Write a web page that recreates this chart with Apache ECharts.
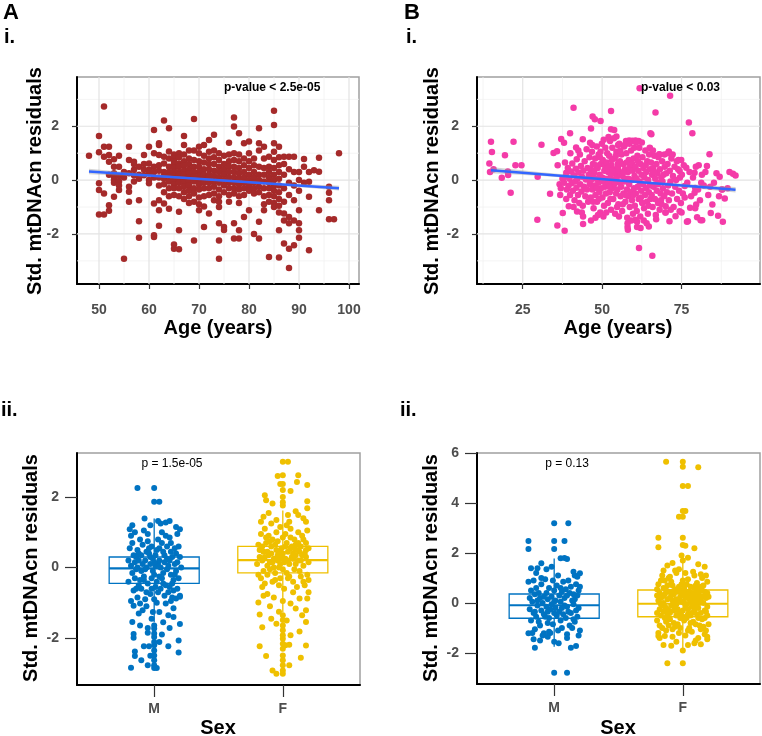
<!DOCTYPE html>
<html><head><meta charset="utf-8">
<script src="https://cdn.jsdelivr.net/npm/echarts@6/dist/echarts.min.js"></script>
<style>html,body{margin:0;padding:0;background:#fff}#c{width:762px;height:736px}</style>
</head><body><div id="c"></div>
<script>
// ---------- ticks / labels ----------
const ageTicksA=[50,60,70,80,90,100];
const ageMinorA=[55,65,75,85,95];
const ageTicksB=[25,50,75];
const ageMinorB=[12.5,37.5,62.5,87.5];
const residTicks=[-2,0,2];
const residMinor=[-3,-1,1,3];
const residTicksB2=[-2,0,2,4,6];
const sexLabels=['M','F'];
const sexPos=[1,2];

// ---------- A i: age vs residual ----------
const pointsAi=[[48,0.9],
[50,1.64],[50,1.03],[50,-0.12],[50,-0.37],[50,-1.28],
[51,2.73],[51,1.24],[51,0.87],[51,-0.5],[51,-1.28],
[52,1.24],[52,0.93],[52,0.68],[52,-0.93],[52,-1.14],[52,0.2],
[53,0.77],[53,0.5],[53,0.12],[53,0],[53,-0.1],[53,-0.62],[53,0.25],
[54,0.9],[54,0.5],[54,0.15],[54,-0.05],[54,-0.2],[54,-0.37],
[55,-2.92],[55,0.3],[55,0.1],
[56,1.24],[56,0.75],[56,0.25],[56,-0.25],[56,-0.43],[56,-0.8],
[57,0.68],[57,0.38],[57,0.18],[57,0.6],[57,-0.05],
[58,0.5],[58,0.2],[58,-0.75],[58,-1.53],[58,-2.14],[58,0.05],
[59,0.93],[59,0.38],[59,0.18],[59,0.6],
[60,1.24],[60,0.62],[60,0.38],[60,0],[60,-0.12],[60,0.25],
[61,1.86],[61,1],[61,0.5],[61,0.3],[61,-0.87],[61,-2.11],[61,-2.05],[61,0.1],
[62,1.37],[62,1.3],[62,0.93],[62,0.35],[62,0.1],[62,-0.2],[62,-0.75],[62,-1.12],[62,-1.7],[62,0.55],
[63,2.21],[63,0.87],[63,0.62],[63,0.3],[63,0.05],[63,-0.15],[63,-0.45],[63,-0.87],[63,0.15],
[64,1.93],[64,1.06],[64,0.8],[64,0.5],[64,0.3],[64,0.15],[64,-0.05],[64,-0.3],[64,-0.6],[64,-1.06],
[65,0.95],[65,0.8],[65,0.6],[65,0.45],[65,0.3],[65,0.15],[65,0],[65,-0.15],[65,-0.3],[65,-0.55],[65,-2.39],[65,-2.55],[65,0.7],
[66,1],[66,0.85],[66,0.62],[66,0.5],[66,0.3],[66,0.2],[66,0.05],[66,-0.1],[66,-0.3],[66,-0.6],[66,-1.18],[66,-1.86],[66,-2.57],
[67,1.64],[67,1.3],[67,0.95],[67,0.7],[67,0.55],[67,0.35],[67,0.2],[67,0.05],[67,-0.1],[67,-0.25],[67,-0.45],[67,-0.7],
[68,1.1],[68,0.8],[68,0.6],[68,0.4],[68,0.25],[68,0.1],[68,-0.05],[68,-0.2],[68,-0.4],[68,-0.6],[68,-0.85],
[69,2.27],[69,1.1],[69,0.75],[69,0.5],[69,0.3],[69,0.12],[69,-0.05],[69,-0.3],[69,-0.5],[69,-0.8],[69,-2.24],
[70,1.24],[70,1],[70,0.7],[70,0.5],[70,0.3],[70,0.15],[70,0],[70,-0.15],[70,-0.35],[70,-0.65],[70,-1.12],[70,-0.9],
[71,1.3],[71,0.9],[71,0.65],[71,0.4],[71,0.2],[71,0.05],[71,-0.1],[71,-0.3],[71,-0.6],[71,-0.98],[71,-1.74],
[72,1.49],[72,1.05],[72,0.8],[72,0.6],[72,0.4],[72,0.2],[72,0.1],[72,-0.1],[72,-0.3],[72,-0.55],[72,-1.24],
[73,1.68],[73,1.1],[73,0.85],[73,0.6],[73,0.35],[73,0.15],[73,-0.05],[73,-0.25],[73,-0.5],[73,-0.75],
[74,1],[74,0.75],[74,0.5],[74,0.3],[74,0.1],[74,-0.1],[74,-0.35],[74,-0.6],[74,-1],[74,-1.6],[74,-2.24],[74,-2.92],[74,-0.8],
[75,0.9],[75,0.6],[75,0.4],[75,0.2],[75,0],[75,-0.2],[75,-0.45],[75,-1.74],[75,-1.85],
[76,1.39],[76,0.95],[76,0.7],[76,0.5],[76,0.3],[76,0.1],[76,-0.1],[76,-0.3],[76,-0.55],[76,-0.8],
[77,2.33],[77,1.99],[77,1],[77,0.75],[77,0.5],[77,0.3],[77,0.1],[77,-0.1],[77,-0.3],[77,-0.5],[77,-1.6],[77,-2.17],
[78,1.74],[78,0.95],[78,0.7],[78,0.45],[78,0.25],[78,0.05],[78,-0.15],[78,-0.35],[78,-0.6],[78,-0.85],[78,-1.86],[78,-2.17],
[79,1.37],[79,0.8],[79,0.55],[79,0.3],[79,0.1],[79,-0.1],[79,-0.3],[79,-0.55],[79,-1.37],
[80,1.43],[80,1],[80,0.7],[80,0.45],[80,0.2],[80,0],[80,-0.2],[80,-0.4],[80,-1.12],
[81,0.8],[81,0.55],[81,0.3],[81,0.1],[81,-0.1],[81,-0.3],[81,-0.5],[81,-2],
[82,1.93],[82,1.37],[82,1.1],[82,0.5],[82,0.2],[82,0],[82,-0.25],[82,-0.45],[82,-1.55],[82,-2.17],
[83,1.24],[83,0.8],[83,0.45],[83,0.2],[83,-0.05],[83,-0.3],[83,-0.6],[83,-0.9],[83,-1.12],
[84,0.87],[84,0.5],[84,0.3],[84,0.1],[84,-0.1],[84,-0.3],[84,-0.55],[84,-0.8],[84,-2.86],
[85,2.58],[85,2.05],[85,1.37],[85,1.05],[85,0.75],[85,0.45],[85,0.2],[85,0],[85,-0.2],[85,-0.4],[85,-0.6],[85,-0.85],[85,-1],
[86,1.24],[86,0.85],[86,0.55],[86,0.3],[86,0.05],[86,-0.2],[86,-0.45],[86,-0.7],[86,-0.95],[86,-1.2],[86,-1.86],[86,-2.88],
[87,0.87],[87,0.6],[87,0.2],[87,-0.3],[87,-0.8],[87,-1.24],[87,-1.5],[87,-2.36],
[88,0.87],[88,0.4],[88,-0.1],[88,-0.55],[88,-1.37],[88,-2.55],[88,-3.27],[88,-1.6],
[89,0.87],[89,0.3],[89,-0.2],[89,-0.75],[89,-1.5],[89,-2.42],
[90,0.3],[90,0],[90,-0.4],[90,-1.12],[90,-1.6],[90,-1.86],[90,-2.14],
[91,0.78],[91,0.5],[91,-0.1],
[92,0.3],[92,-0.06],[92,-0.62],[92,-2.61],
[93,0.37],[94,0.83],[94,0.31],[94,-1.12],
[96,-0.25],[96,-0.47],[96,-0.75],[96,-1.45],[97,-1.45],[98,1]];
const fitAi=[[48,0.32],[98,-0.30]];
const bandAi=[[48,0.22,0.42],[60,0.12,0.22],[73,-0.02,0.04],[85,-0.18,-0.10],[98,-0.39,-0.21]];

// ---------- B i: age vs residual ----------
const pointsBi=[[15.0,1.42],[15.3,1.04],[14.5,0.62],[14.7,0.30],[15.8,0.40],[18.4,0.09],[19.4,0.92],[20.3,0.32],[20.4,0.19],[21.2,-0.47],[22.1,1.42],[22.7,0.55],[24.6,0.55],[29.7,0.12],[29.6,-1.47],[30.9,1.31],[33.6,-0.51],[34.7,1.01],[35.8,1.07],[36.0,0.55],[36.6,-0.15],[35.9,-1.69],[37.1,1.53],[37.6,-1.22],[38.2,-1.88],[38.3,0.65],[38.0,1.39],[38.7,-0.70],[38.7,0.27],[39.9,1.74],[41.0,2.69],[41.8,1.21],[42.0,0.77],[39.5,-0.97],[42.1,-1.17],[44.0,-1.63],[43.9,1.52],[46.5,-1.5],[47.0,2.36],[47.7,2.26],[46.5,1.92],[46.2,1.39],[47.9,-1.40],[49.5,2.20],[52.8,2.57],[52.8,1.89],
[61.8,3.41],[71.4,3.13],[66.8,2.51],[77.3,2.14],[78.4,1.74],[65.5,1.70],[83.8,0.96],[80.4,0.55],[83.0,0.52],[81.4,0.2],[87.0,0.12],[90.1,0.30],[91.2,0.24],[92.0,0.17],[87.8,-0.35],[88.6,-0.68],[84.7,-0.91],[84.2,-1.22],[86.5,-1.32],[88.0,-1.55],[79.9,-1.38],[81.5,-1.49],[79.6,-0.91],[77.0,-1.53],[77.7,-1.03],[79.1,-0.47],[74.4,-1.16],[73.1,-1.34],[71.2,-1.53],[70.0,-0.97],[65.8,-2.81],[61.6,-2.52],[64.7,-1.72],[62.1,-1.78],[58.1,-1.84],[60.5,-1.47],[76.0,-0.22],[74.9,0.75],[76.5,0.46],[74.4,0.34],[79.1,0.27],[81.2,-0.1],[79.3,-0.29],
[53.8,1.86],[54.5,1.62],[55.0,1.3],[58.0,-1.74],[61.0,-1.74],[65.0,1.18],[65.2,1.74],[71.0,1.06],[76.7,-1.55],[79.3,-1.05],[81.0,-1.49],[87.7,-0.35],
[57.5,1.45],[58.5,1.47],[59.5,1.46],[60.5,1.47],[61.5,1.45],[65.0,1.2],[68.0,0.96],
[38.5,0.12],[38.9,-0.35],[39.2,0.45],[39.4,-0.22],[39.7,0.05],[39.9,-0.55],[40.2,0.32],[40.4,-0.12],[40.6,0.62],[40.8,-0.4],[41.1,0.18],[41.3,-0.75],[41.5,-0.05],[41.7,0.42],[41.9,-0.28],[42.2,0.05],[42.4,-0.55],[42.6,0.28],[42.8,-0.85],[43.0,0.95],[43.1,-0.15],[43.3,0.52],[43.5,-0.42],[43.7,0.12],[43.9,-0.95],[44.1,0.35],[44.3,-0.25],[44.5,0.7],[44.7,-0.6],[44.9,0.02],[45.1,1.15],[45.2,-0.35],[45.4,0.45],[45.6,-0.8],[45.8,0.2],[37.0,-0.3],[37.5,0.05],[36.8,-0.55],[38.0,-0.1],[40.0,1.0],[42.5,1.1],[43.6,-1.2],[41.0,-1.0],[44.0,-1.35],
[46.0,0.85],[46.1,-0.15],[46.3,0.4],[46.4,-0.65],[46.6,0.1],[46.8,1.05],[46.9,-0.35],[47.1,0.6],[47.3,-1.05],[47.4,0.25],[47.6,-0.2],[47.8,0.8],[47.9,-0.55],[48.1,0.05],[48.3,1.25],[48.4,-0.8],[48.6,0.45],[48.8,-0.1],[48.9,0.95],[49.1,-0.45],[49.2,0.2],[49.4,-1.2],[49.6,0.6],[49.7,-0.3],[49.9,1.35],[50.0,0.1],[50.1,-0.65],[50.2,0.75],[50.3,-0.05],[50.5,1.5],[50.6,-0.95],[50.7,0.35],[50.9,-0.25],[46.5,0.0],[47.2,-0.8],[48.0,0.55],[49.0,-0.7],[49.5,1.05],[46.9,1.3],[48.7,-1.3],[50.4,-1.35],[47.5,0.35],[49.3,0.85],[48.2,-0.3],[50.8,0.55],
[51.0,1.2],[51.1,0.05],[51.2,-0.5],[51.4,0.65],[51.5,-0.2],[51.6,1.0],[51.8,-0.85],[51.9,0.3],[52.1,-0.1],[52.2,0.9],[52.4,-0.45],[52.5,1.45],[52.7,0.15],[52.8,-1.1],[52.9,0.55],[53.1,-0.3],[53.2,1.2],[53.4,0.0],[53.5,-0.7],[53.6,0.4],[53.8,-0.15],[53.9,0.8],[54.1,-1.25],[54.2,0.25],[54.4,-0.5],[54.5,1.05],[54.6,0.1],[54.8,-0.35],[54.9,0.6],[55.1,-0.9],[55.2,0.35],[55.4,1.35],[55.5,-0.1],[55.6,0.7],[55.8,-0.6],[55.9,0.2],[51.3,-1.2],[52.0,1.6],[52.6,-0.7],[53.0,0.75],[53.7,1.55],[54.0,-0.05],[54.7,-1.0],[55.3,-1.35],[51.7,0.45],[52.3,-0.25],[53.3,0.35],[54.3,0.9],[55.0,0.5],[55.7,1.1],
[56.0,-0.25],[56.1,0.95],[56.3,-1.15],[56.4,0.15],[56.6,0.6],[56.7,-0.5],[56.9,1.25],[57.0,-0.05],[57.2,0.4],[57.3,-0.8],[57.5,0.05],[57.6,1.0],[57.8,-0.35],[57.9,-1.4],[58.1,0.3],[58.2,-0.6],[58.4,0.75],[58.5,-0.15],[58.7,-1.0],[58.8,0.5],[59.0,-0.45],[59.1,1.1],[59.3,0.0],[59.4,-0.75],[59.6,0.35],[59.7,-1.25],[59.9,0.8],[60.0,-0.3],[60.2,0.15],[60.3,-0.95],[56.5,-0.9],[57.1,1.3],[58.0,-1.6],[58.6,1.35],[59.2,-1.5],[60.1,1.2],[56.8,0.3],[57.7,0.65],[59.8,-0.55],[58.3,0.05],[57.4,-0.55],[59.5,0.6],
[60.5,0.5],[60.6,-0.5],[60.8,0.05],[60.9,-1.15],[61.1,0.9],[61.2,-0.25],[61.4,0.35],[61.5,-0.7],[61.7,1.2],[61.8,-0.05],[62.0,-1.35],[62.1,0.6],[62.3,-0.4],[62.4,0.2],[62.6,-0.85],[62.7,0.85],[62.9,-0.15],[63.0,0.45],[63.2,-1.05],[63.3,0.1],[63.5,-0.55],[63.6,1.1],[63.8,-0.3],[63.9,0.3],[64.1,-0.8],[64.2,0.7],[64.4,-1.25],[64.5,0.0],[64.7,-0.45],[64.8,0.95],[65.0,-0.2],[65.1,0.4],[61.0,-1.55],[62.5,1.4],[63.1,-1.5],[64.0,-1.6],[61.3,0.7],[62.2,-0.65],[63.7,0.55],[64.6,-0.95],[60.7,1.4],[65.2,-0.7],
[65.4,0.65],[65.6,-0.55],[65.7,0.2],[65.9,-1.0],[66.1,0.45],[66.2,-0.25],[66.4,0.9],[66.6,-0.7],[66.7,0.05],[66.9,-1.3],[67.1,0.6],[67.2,-0.4],[67.4,0.25],[67.6,-0.85],[67.7,0.85],[67.9,-0.1],[68.1,-1.1],[68.2,0.4],[68.4,-0.5],[68.6,0.1],[68.7,-0.9],[68.9,0.7],[69.1,-0.3],[69.3,0.2],[69.5,-0.6],[69.7,0.5],[69.9,-1.2],[66.0,1.1],[67.0,-1.45],[68.0,0.95],[69.0,-0.05],[67.5,-0.15],[66.5,0.3],[68.5,-0.75],[69.6,0.95],
[70.2,0.25],[70.4,-0.45],[70.6,0.6],[70.8,-0.2],[71.0,-0.75],[71.3,0.35],[71.5,-0.05],[71.8,0.8],[72.0,-0.5],[72.3,0.15],[72.5,-1.0],[72.8,0.5],[73.0,-0.25],[73.3,0.0],[73.6,-0.7],[73.9,0.4],[74.2,-0.4],[74.5,0.1],[74.8,-0.85],[75.1,0.2],[75.4,-0.5],[75.7,0.55],[76.0,-0.65],[70.7,1.0],[72.2,0.95],[73.5,0.7],[71.6,-1.1],[75.0,-1.2],[70.0,-1.2],[74.0,0.75],
[76.8,-0.1],[77.5,0.3],[78.0,-0.6],[78.6,0.1],[79.5,0.5],[80.2,-0.35],[80.8,-0.75],[82.0,-0.2],[82.5,0.3],[83.4,-0.55],[85.2,-0.1],[86.0,0.25],[86.8,-0.6],[89.5,-0.3],[84.0,-0.25]];
const fitBi=[[15,0.37],[92,-0.36]];
const bandBi=[[15,0.25,0.49],[30,0.16,0.30],[52,-0.02,0.06],[70,-0.20,-0.10],[92,-0.46,-0.26]];

// ---------- A ii: sex boxplots ----------
const boxAii=[[1,-1.55,-0.45,-0.02,0.30,1.39],[2,-1.27,-0.15,0.21,0.60,1.62]];
const jitterAiiM=[[0.82,0.05],[0.85,-0.3],[0.88,0.4],[0.9,-0.1],[0.93,0.2],[0.95,-0.45],[0.98,0.6],[1.0,-0.2],[1.03,0.1],[1.05,-0.6],[1.08,0.35],[1.1,-0.05],[1.13,0.7],[1.15,-0.35],[1.18,0.15],[1.2,-0.8],
[0.81,0.55],[0.84,-0.65],[0.87,0.0],[0.89,0.8],[0.92,-0.25],[0.94,0.45],[0.97,-0.75],[0.99,0.25],[1.02,-0.4],[1.04,0.55],[1.07,-0.15],[1.09,0.9],[1.12,-0.55],[1.14,0.3],[1.17,-0.1],[1.19,0.6],
[0.83,-0.15],[0.86,0.3],[0.88,-0.5],[0.91,0.65],[0.93,-0.05],[0.96,0.4],[0.98,-0.6],[1.01,0.05],[1.03,0.8],[1.06,-0.3],[1.08,0.15],[1.11,-0.7],[1.13,0.45],[1.16,-0.2],[1.18,0.95],[1.21,0.0],
[0.8,-0.4],[0.82,0.9],[0.85,0.15],[0.87,-0.85],[0.9,0.35],[0.92,-0.35],[0.95,0.75],[0.97,0.1],[1.0,-0.9],[1.02,0.5],[1.05,0.0],[1.07,-0.45],[1.1,0.6],[1.12,0.2],[1.15,-0.65],[1.17,0.4],
[0.84,0.35],[0.86,-0.05],[0.89,-0.35],[0.91,0.1],[0.94,-0.7],[0.96,0.55],[0.99,-0.1],[1.01,0.35],[1.04,-0.25],[1.06,0.7],[1.09,-0.5],[1.11,0.05],[1.14,-0.85],[1.16,0.55],[1.19,-0.3],[0.8,0.2],
[0.83,0.7],[0.87,0.5],[0.9,-0.6],[0.94,0.0],[0.97,0.3],[1.01,-0.55],[1.04,0.2],[1.08,-0.8],[1.12,0.85],[1.16,0.1],[1.2,0.3],[0.86,-0.6],[0.92,1.05],[0.98,-0.3],[1.06,1.0],[1.14,-0.45],
[0.85,1.0],[0.95,0.95],[1.03,-0.7],[1.1,0.25],[1.18,-0.6],[0.88,0.2],[0.93,-0.9],[1.0,0.15],[1.07,0.45],[1.13,-0.2],
[0.925,1.39],[1.03,1.32],[1.12,1.32],[1.05,1.25],[1.2,1.09],[0.81,1.09],[0.83,1.2],[1.17,1.15],[0.87,2.26],[1.04,1.87],[0.97,1.2],[1.09,1.28],
[0.82,-0.95],[1.2,-0.83],[1.17,-0.88],[1.13,-0.95],[1.09,-1.02],[1.02,-1.0],[0.89,-1.02],[0.94,-1.1],[0.84,-1.08],[0.91,-1.21],[0.99,-1.26],[1.04,-1.26],[1.11,-1.35],[1.15,-1.4],[0.83,-1.54],[0.89,-1.64],[0.95,-1.71],[1.12,-1.71],[1.2,-1.6],[0.84,-1.88],[0.84,-1.99],[0.95,-1.85],[1.04,-2.11],[0.92,-2.23],[0.96,-2.23],[1.11,-2.23],[1.19,-2.07],[1.19,-2.41],[0.85,-2.38],[0.85,-2.51],[0.9,-2.63],[0.82,-2.84],[0.95,-2.77],[1.07,-1.55],[0.98,-1.45],[1.06,-1.9],[0.88,-1.3],[1.15,-1.15],[0.97,-2.5],[1.02,-2.85]];
const outAiiM=[[1,2.26],[1,1.87],[1,-1.64],[1,-1.73],[1,-1.87],[1,-1.97],[1,-2.11],[1,-2.2],[1,-2.35],[1,-2.49],[1,-2.63],[1,-2.77],[1,-2.85]];
const jitterAiiF=[[1.82,0.3],[1.85,-0.1],[1.87,0.7],[1.9,0.15],[1.92,-0.4],[1.95,0.5],[1.97,0.0],[2.0,0.85],[2.02,0.25],[2.05,-0.25],[2.07,0.6],[2.1,0.1],[2.12,1.0],[2.15,0.35],[2.17,-0.5],[2.2,0.55],
[1.81,0.65],[1.84,0.2],[1.86,-0.45],[1.89,0.9],[1.91,0.4],[1.94,-0.15],[1.96,0.75],[1.99,0.3],[2.01,-0.6],[2.04,0.45],[2.06,1.1],[2.09,-0.05],[2.11,0.5],[2.14,0.2],[2.16,0.8],[2.19,-0.2],
[1.83,-0.3],[1.85,0.45],[1.88,0.05],[1.9,0.75],[1.93,0.25],[1.95,1.0],[1.98,-0.3],[2.0,0.4],[2.03,0.7],[2.05,0.1],[2.08,-0.4],[2.1,0.65],[2.13,-0.1],[2.15,0.9],[2.18,0.3],[2.2,-0.35],
[1.8,0.1],[1.83,0.95],[1.86,0.3],[1.88,-0.2],[1.91,0.6],[1.93,0.0],[1.96,0.35],[1.98,1.15],[2.01,0.15],[2.03,-0.15],[2.06,0.55],[2.08,0.25],[2.11,-0.55],[2.13,0.45],[2.16,0.05],[2.18,0.7],
[1.82,0.5],[1.84,-0.55],[1.87,0.85],[1.89,0.35],[1.92,0.15],[1.94,0.65],[1.97,-0.5],[1.99,0.55],[2.02,0.95],[2.04,-0.3],[2.07,0.3],[2.09,0.8],[2.12,0.2],[2.14,-0.25],[2.17,0.4],[2.19,1.05],
[1.84,0.6],[1.9,-0.05],[1.96,0.2],[2.02,0.6],[2.08,0.4],[2.14,0.6],[2.2,0.15],[1.86,1.1],[1.92,0.8],[1.98,0.1],[2.04,0.2],[2.1,0.35],[2.16,-0.4],[1.88,0.45],[1.94,-0.35],[2.0,-0.05],[2.06,0.85],[2.12,0.7],[2.18,0.5],[1.81,-0.2],[2.03,1.2],[1.97,0.45],[2.09,0.55],[1.91,1.25],
[2.12,2.62],[2.11,2.43],[2.19,2.34],[1.98,2.37],[2.06,2.17],[1.86,2.05],[1.87,1.91],[1.92,1.82],[2.19,1.88],[2.19,1.68],[1.85,1.44],[2.04,1.49],[2.12,1.49],[2.16,1.4],[2.18,1.3],[2.05,1.3],[1.95,1.35],[1.83,1.3],[2.04,3.0],[1.96,2.6],[2.1,1.6],[1.89,1.55],
[1.81,-0.99],[1.82,-1.33],[1.84,-1.69],[1.91,-1.45],[1.95,-1.59],[2.06,-1.02],[2.1,-1.16],[2.13,-0.88],[2.18,-1.21],[2.19,-0.88],[2.15,-1.35],[2.18,-1.54],[2.13,-1.81],[2.06,-1.92],[2.05,-2.19],[2.02,-2.2],[2.18,-2.21],[1.82,-2.23],[1.87,-2.51],[2.14,-2.56],[2.05,-2.77],[1.92,-2.92],[1.95,-3.01],[1.88,-0.75],[1.93,-0.85],[2.0,-0.95],[1.97,-1.25],[2.08,-0.7],[1.85,-0.8],[2.2,-0.7],[1.9,-1.1],[2.03,-1.5]];
const outAiiF=[[2,3.0],[2,2.62],[2,2.37],[2,2.2],[2,2.0],[2,1.85],[2,1.76],[2,-1.35],[2,-1.49],[2,-1.64],[2,-1.78],[2,-1.92],[2,-2.02],[2,-2.16],[2,-2.3],[2,-2.49],[2,-2.63],[2,-2.77],[2,-2.92],[2,-3.01]];

// ---------- B ii: sex boxplots ----------
const boxBii=[[1,-1.75,-0.61,-0.09,0.36,1.78],[2,-1.95,-0.55,-0.03,0.52,1.92]];
const jitterBiiM=[[0.81,0.2],[0.84,-0.4],[0.86,0.6],[0.89,-0.9],[0.91,0.0],[0.94,0.4],[0.96,-0.6],[0.99,0.9],[1.01,-0.2],[1.04,0.3],[1.06,-1.0],[1.09,0.55],[1.11,-0.35],[1.14,0.1],[1.16,-0.75],[1.19,0.5],
[0.82,-0.7],[0.85,0.35],[0.87,-0.1],[0.9,0.75],[0.92,-0.45],[0.95,0.15],[0.97,-1.2],[1.0,0.5],[1.02,-0.5],[1.05,0.05],[1.07,0.85],[1.1,-0.15],[1.12,-0.9],[1.15,0.35],[1.17,-0.3],[1.2,-1.1],
[0.8,0.85],[0.83,0.05],[0.85,-1.05],[0.88,0.4],[0.9,-0.3],[0.93,0.95],[0.95,-0.8],[0.98,0.25],[1.0,-0.4],[1.03,1.1],[1.05,-0.7],[1.08,0.2],[1.1,-1.25],[1.13,0.65],[1.15,-0.05],[1.18,-0.55],
[0.81,-0.25],[0.84,0.9],[0.86,-0.55],[0.89,0.2],[0.91,-1.3],[0.94,-0.15],[0.96,0.6],[0.99,-0.85],[1.01,0.1],[1.04,-0.35],[1.06,0.45],[1.09,-0.6],[1.11,0.9],[1.14,-1.0],[1.16,0.15],[1.19,-0.2],
[0.83,-1.2],[0.87,0.1],[0.92,0.25],[0.97,-0.25],[1.02,0.7],[1.07,-0.45],[1.12,0.4],[1.17,0.75],[0.82,0.5],[0.88,-0.75],[0.93,-0.55],[0.98,-0.05],[1.03,-1.1],[1.08,-0.1],[1.13,-0.4],[1.18,0.3],
[0.85,-0.35],[0.9,1.0],[0.95,-0.35],[1.0,0.05],[1.05,0.6],[1.1,0.3],[1.15,-0.65],[1.2,0.65],[0.86,1.2],[0.96,-1.15],[1.06,-0.2],[1.16,1.1],
[1.11,3.19],[0.8,2.48],[0.8,2.16],[1.08,2.48],[0.9,1.59],[1.05,1.79],[1.08,1.8],[1.1,1.76],[0.82,1.39],[0.87,1.39],[0.94,1.35],[1.2,1.19],[1.18,1.05],[1.15,1.25],[0.98,1.45],[1.1,-2.79],[0.85,-1.79],[1.13,-1.79],[1.17,-1.72],[0.8,-1.21],[0.92,-1.21],[0.95,-1.35],[1.035,-1.61],[1.1,-1.4],[1.19,-1.3],[0.89,-1.5],[1.0,-1.55],[0.84,-1.45]];
const outBiiM=[[1,3.19],[1,2.48],[1,2.16],[1,-2.79]];
const jitterBiiF=[[1.81,0.1],[1.83,-0.5],[1.85,0.6],[1.87,-0.2],[1.89,1.0],[1.91,0.3],[1.93,-0.8],[1.95,0.15],[1.97,-0.35],[1.99,0.75],[2.01,0.0],[2.03,-0.6],[2.05,0.45],[2.07,-0.15],[2.09,1.1],[2.11,0.2],[2.13,-0.9],[2.15,0.5],[2.17,-0.3],[2.19,0.85],
[1.8,-0.7],[1.82,0.4],[1.84,-0.05],[1.86,0.9],[1.88,-0.45],[1.9,0.2],[1.92,-1.05],[1.94,0.55],[1.96,0.05],[1.98,-0.6],[2.0,0.35],[2.02,1.2],[2.04,-0.25],[2.06,0.65],[2.08,-0.75],[2.1,0.1],[2.12,0.55],[2.14,-0.4],[2.16,0.25],[2.18,-1.1],
[1.81,0.75],[1.83,0.2],[1.85,-0.35],[1.87,0.5],[1.89,-0.9],[1.91,-0.1],[1.93,0.35],[1.95,1.2],[1.97,0.1],[1.99,-0.5],[2.01,0.6],[2.03,-0.05],[2.05,-1.0],[2.07,0.4],[2.09,-0.3],[2.11,0.8],[2.13,0.0],[2.15,-0.65],[2.17,0.45],[2.19,-0.15],
[1.8,0.3],[1.82,-0.25],[1.84,1.1],[1.86,-0.6],[1.88,0.15],[1.9,-0.4],[1.92,0.7],[1.94,-0.2],[1.96,-0.85],[1.98,0.5],[2.0,-0.3],[2.02,0.2],[2.04,0.95],[2.06,-0.5],[2.08,0.3],[2.1,-0.85],[2.12,-0.2],[2.14,0.65],[2.16,-0.95],[2.18,0.2],
[1.81,-1.2],[1.83,0.9],[1.85,0.0],[1.87,-0.75],[1.89,0.45],[1.91,0.85],[1.93,-0.3],[1.95,-0.5],[1.97,0.65],[1.99,0.05],[2.01,-0.7],[2.03,0.45],[2.05,0.15],[2.07,-0.4],[2.09,0.6],[2.11,-0.45],[2.13,0.3],[2.15,1.0],[2.17,-0.6],[2.19,0.4],
[1.8,0.55],[1.82,-0.9],[1.84,0.25],[1.86,-0.15],[1.88,0.7],[1.9,-0.65],[1.92,0.1],[1.94,1.3],[1.96,-0.25],[1.98,-1.0],[2.0,0.9],[2.02,-0.15],[2.04,0.35],[2.06,-0.8],[2.08,0.05],[2.1,0.4],[2.12,-0.6],[2.14,0.1],[2.16,0.7],[2.18,-0.35],
[1.83,-0.05],[1.86,0.35],[1.89,-0.3],[1.92,0.45],[1.95,-0.05],[1.98,0.25],[2.01,0.4],[2.04,-0.45],[2.07,0.2],[2.1,-0.1],[2.13,0.5],[2.16,0.0],[2.19,-0.5],[1.85,1.3],[1.9,1.05],[1.97,1.35],[2.03,0.75],[2.08,1.25],[2.14,1.15],[2.18,1.1],
[1.82,-1.4],[1.87,-1.1],[1.92,-1.35],[1.97,-1.2],[2.02,-1.3],[2.07,-1.15],[2.12,-1.4],[2.17,-1.25],[1.84,-1.0],[1.94,-0.95],[2.04,-1.1],[2.14,-1.05],[2.2,-0.85],[1.8,-0.4],[2.0,-0.55],[2.2,0.25],[1.88,-0.55],[2.06,0.05],[1.96,0.45],[2.1,0.7],
[1.87,5.65],[2.12,5.43],[2.04,4.68],[2.02,3.68],[1.97,3.45],[1.81,2.61],[1.81,2.23],[2.02,2.29],[2.09,2.19],[2.04,1.81],[1.99,1.9],[1.92,1.6],[2.12,1.55],[1.88,1.5],[2.17,1.45],[2.0,1.7],[1.88,-2.41],[1.81,-1.32],[1.86,-1.32],[1.85,-1.68],[1.91,-1.71],[2.04,-1.68],[2.09,-1.61],[2.14,-1.65],[2.19,-1.45],[2.19,-1.35],[1.95,-1.55],[2.0,-1.9],[2.1,-1.5]];
const outBiiF=[[2,5.65],[2,5.45],[2,4.68],[2,3.68],[2,3.45],[2,2.61],[2,2.32],[2,-2.41]];

// ---------- styling ----------
const FONT='"Liberation Sans", Arial, sans-serif';
const COL_A='#A52A2A', COL_B='#F43BA8', COL_M='#0073C2', COL_F='#EFC000';
const sexColors=[COL_M,COL_F];

function mkAxis(gi,min,max,ticks,fmt,tickLen,margin){
  return {gridIndex:gi,type:'value',min:min,max:max,
    axisLine:{show:true,onZero:false,lineStyle:{color:'#000',width:2}},
    axisTick:{show:true,customValues:ticks,length:tickLen,lineStyle:{color:'#333',width:1.2}},
    axisLabel:{customValues:ticks,formatter:fmt,margin:margin,color:'#4D4D4D',fontSize:14,fontWeight:'bold',fontFamily:FONT},
    splitLine:{show:false},minorSplitLine:{show:false}};
}
const sexFmt=v=>sexLabels[sexPos.indexOf(Math.round(v))];
const numFmt=v=>String(v);

function gridLines(gi,vals,dir,range,color,width){
  return {type:'custom',xAxisIndex:gi,yAxisIndex:gi,silent:true,z:1,
    data:vals.map(v=>dir==='v'?[v,range[0]]:[range[0],v]),
    renderItem:function(p,api){
      let a,b;
      if(dir==='v'){const v=api.value(0);a=api.coord([v,range[0]]);b=api.coord([v,range[1]]);}
      else {const v=api.value(1);a=api.coord([range[0],v]);b=api.coord([range[1],v]);}
      return {type:'line',shape:{x1:a[0],y1:a[1],x2:b[0],y2:b[1]},style:{stroke:color,lineWidth:width}};
    }};
}
function bandSeries(gi,band){
  return {type:'custom',xAxisIndex:gi,yAxisIndex:gi,silent:true,z:4,data:[band[0]],
    renderItem:function(p,api){
      const up=band.map(d=>api.coord([d[0],d[2]]));
      const lo=band.map(d=>api.coord([d[0],d[1]])).reverse();
      return {type:'polygon',shape:{points:up.concat(lo)},style:{fill:'rgba(150,150,150,0.4)'}};
    }};
}
function fitSeries(gi,fit){
  return {type:'line',xAxisIndex:gi,yAxisIndex:gi,data:fit,symbol:'none',silent:true,z:5,
    lineStyle:{color:'#3366FF',width:2.5}};
}
function scatter(gi,data,color,size,z){
  return {type:'scatter',xAxisIndex:gi,yAxisIndex:gi,data:data,symbolSize:size,silent:true,z:z||3,
    itemStyle:{color:color,opacity:1}};
}
function boxSeries(gi,boxes){
  return {type:'custom',xAxisIndex:gi,yAxisIndex:gi,silent:true,z:2,data:boxes,
    encode:{x:0,y:[1,2,3,4,5]},
    renderItem:function(p,api){
      const x=api.value(0),lo=api.value(1),q1=api.value(2),md=api.value(3),q3=api.value(4),hi=api.value(5);
      const col=sexColors[p.dataIndex];const w=0.35;
      const tl=api.coord([x-w,q3]),br=api.coord([x+w,q1]);
      const m1=api.coord([x-w,md]),m2=api.coord([x+w,md]);
      const t=api.coord([x,hi]),a=api.coord([x,q3]),b=api.coord([x,q1]),bt=api.coord([x,lo]);
      const st={stroke:col,lineWidth:1.3};
      return {type:'group',children:[
        {type:'line',shape:{x1:t[0],y1:t[1],x2:a[0],y2:a[1]},style:st},
        {type:'line',shape:{x1:b[0],y1:b[1],x2:bt[0],y2:bt[1]},style:st},
        {type:'rect',shape:{x:tl[0],y:tl[1],width:br[0]-tl[0],height:br[1]-tl[1]},style:{fill:'#fff',stroke:col,lineWidth:1.3}},
        {type:'line',shape:{x1:m1[0],y1:m1[1],x2:m2[0],y2:m2[1]},style:{stroke:col,lineWidth:2.2}}
      ]};
    }};
}

const rAx=[45.6,102], rBx=[10.6,99.7], rY1=[-3.86,3.83], rY2A=[-3.33,3.25], rY2B=[-3.24,6.0], rSex=[0.4,2.6];
const GRID_MAJ='#E3E3E3', GRID_MIN='#F1F1F1';

function txt(x,y,text,size,weight,align,rot,color){
  return {type:'text',x:x,y:y,rotation:rot||0,silent:true,z:100,
    style:{text:text,fontSize:size,fontWeight:weight,fontFamily:FONT,fill:color||'#000',align:align||'left',verticalAlign:'middle'}};
}

const option={
  animation:false,
  backgroundColor:'#fff',
  grid:[
    {left:77,top:77,width:282,height:207,show:true,borderColor:'#A0A0A0',borderWidth:1.5,backgroundColor:'#fff'},
    {left:477,top:77,width:283,height:207,show:true,borderColor:'#A0A0A0',borderWidth:1.5,backgroundColor:'#fff'},
    {left:77,top:453,width:283,height:232,show:true,borderColor:'#A0A0A0',borderWidth:1.5,backgroundColor:'#fff'},
    {left:477,top:453,width:283,height:231,show:true,borderColor:'#A0A0A0',borderWidth:1.5,backgroundColor:'#fff'}
  ],
  xAxis:[
    mkAxis(0,rAx[0],rAx[1],ageTicksA,numFmt,5,19),
    mkAxis(1,rBx[0],rBx[1],ageTicksB,numFmt,5,19),
    mkAxis(2,rSex[0],rSex[1],sexPos,sexFmt,12,17),
    mkAxis(3,rSex[0],rSex[1],sexPos,sexFmt,12,17)
  ],
  yAxis:[
    mkAxis(0,rY1[0],rY1[1],residTicks,numFmt,5,18),
    mkAxis(1,rY1[0],rY1[1],residTicks,numFmt,5,18),
    mkAxis(2,rY2A[0],rY2A[1],residTicks,numFmt,12,18),
    mkAxis(3,rY2B[0],rY2B[1],residTicksB2,numFmt,12,18)
  ],
  series:[
    gridLines(0,ageMinorA,'v',rY1,GRID_MIN,0.8),
    gridLines(0,residMinor,'h',rAx,GRID_MIN,0.8),
    gridLines(0,ageTicksA,'v',rY1,GRID_MAJ,1.2),
    gridLines(0,residTicks,'h',rAx,GRID_MAJ,1.2),
    gridLines(1,ageMinorB,'v',rY1,GRID_MIN,0.8),
    gridLines(1,residMinor,'h',rBx,GRID_MIN,0.8),
    gridLines(1,ageTicksB,'v',rY1,GRID_MAJ,1.2),
    gridLines(1,residTicks,'h',rBx,GRID_MAJ,1.2),
    scatter(0,pointsAi,COL_A,6.5),
    bandSeries(0,bandAi),
    fitSeries(0,fitAi),
    scatter(1,pointsBi,COL_B,6.5),
    bandSeries(1,bandBi),
    fitSeries(1,fitBi),
    boxSeries(2,boxAii),
    scatter(2,outAiiM,COL_M,6),
    scatter(2,outAiiF,COL_F,6),
    scatter(2,jitterAiiM,COL_M,6),
    scatter(2,jitterAiiF,COL_F,6),
    boxSeries(3,boxBii),
    scatter(3,outBiiM,COL_M,6),
    scatter(3,outBiiF,COL_F,6),
    scatter(3,jitterBiiM,COL_M,6),
    scatter(3,jitterBiiF,COL_F,6)
  ],
  graphic:[
    txt(3,13,'A',22,'bold'),
    txt(4,37,'i.',20,'bold'),
    txt(404,13,'B',22,'bold'),
    txt(406,37,'i.',20,'bold'),
    txt(1,410,'ii.',20,'bold'),
    txt(400,410,'ii.',20,'bold'),
    txt(35,181,'Std. mtDNAcn residuals',20,'bold','center',Math.PI/2),
    txt(432,181,'Std. mtDNAcn residuals',20,'bold','center',Math.PI/2),
    txt(31,568,'Std. mtDNAcn residuals',20,'bold','center',Math.PI/2),
    txt(431,568,'Std. mtDNAcn residuals',20,'bold','center',Math.PI/2),
    txt(218,328,'Age (years)',20,'bold','center'),
    txt(618,328,'Age (years)',20,'bold','center'),
    txt(218,728,'Sex',20,'bold','center'),
    txt(618,728,'Sex',20,'bold','center'),
    txt(224,88,'p-value < 2.5e-05',12,'bold','left'),
    txt(641,88,'p-value < 0.03',12,'bold','left'),
    txt(172,464,'p = 1.5e-05',12,'normal','center'),
    txt(567,464,'p = 0.13',12,'normal','center')
  ]
};
const chart=echarts.init(document.getElementById('c'),null,{renderer:'canvas'});
chart.setOption(option);
</script></body></html>
